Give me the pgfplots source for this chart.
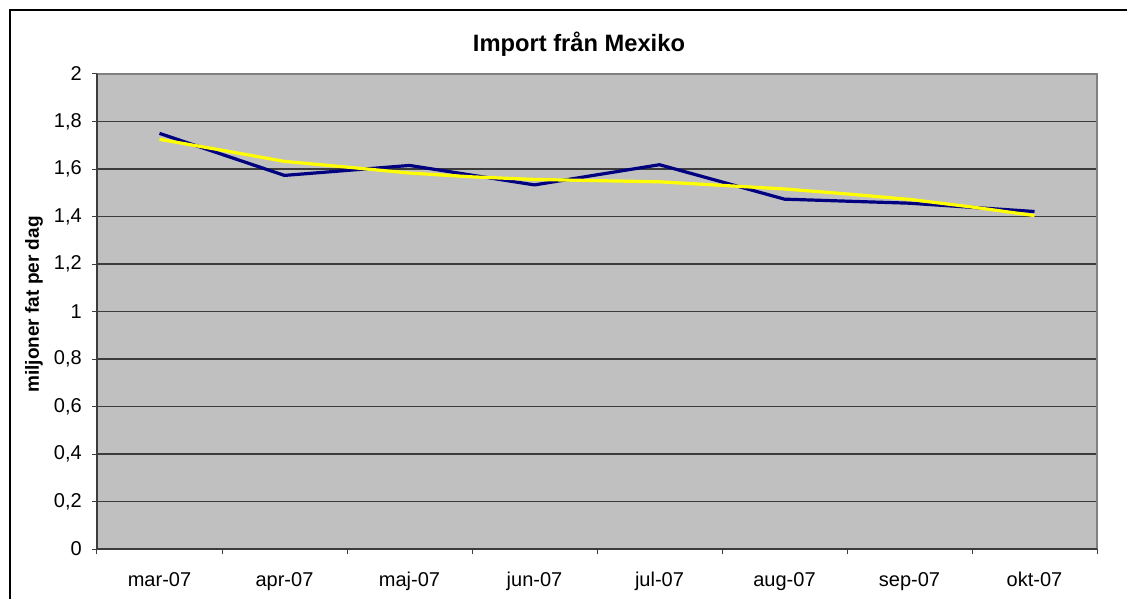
\documentclass[border=0pt]{standalone}
\usepackage{pgfplots}
\pgfplotsset{compat=1.18}
\usepackage{fontspec}
\setmainfont{Liberation Sans}
\definecolor{bg}{HTML}{C0C0C0}
\definecolor{navyline}{HTML}{000080}
\definecolor{yel}{HTML}{FFFF00}
\definecolor{gridc}{HTML}{3C3C3C}
\definecolor{framec}{HTML}{808080}
\begin{document}
\begin{tikzpicture}
\path[use as bounding box] (-97pt,-49pt) rectangle (1030pt,549pt);
\draw[line width=2.7pt] (-87pt,-70pt) -- (-87pt,539pt) -- (1050pt,539pt);
\begin{axis}[
  at={(0pt,0pt)}, anchor=south west,
  scale only axis, width=1000pt, height=475pt,
  xmin=-0.5, xmax=7.5, ymin=0, ymax=2,
  axis line style={draw=none},
  axis background/.style={fill=bg},
  xtick pos=bottom, ytick pos=left,
  tick align=outside,
  major tick length=5pt,
  tick style={color=gridc, line width=1pt},
  ymajorgrids,
  grid style={color=gridc, line width=1.2pt},
  ytick={0,0.2,0.4,0.6,0.8,1,1.2,1.4,1.6,1.8,2},
  yticklabels={0,{0,2},{0,4},{0,6},{0,8},1,{1,2},{1,4},{1,6},{1,8},2},
  xtick={-0.5,0.5,1.5,2.5,3.5,4.5,5.5,6.5,7.5},
  xticklabels={},
  extra x ticks={0,1,2,3,4,5,6,7},
  extra x tick labels={mar-07,apr-07,maj-07,jun-07,jul-07,aug-07,sep-07,okt-07},
  extra x tick style={major tick length=0pt, grid=none},
  tick label style={font=\fontsize{20}{22}\selectfont},
  yticklabel style={anchor=east, inner sep=0pt, xshift=-10pt},
  xticklabel style={anchor=north, inner sep=0pt, yshift=-23pt},
  clip=false,
]
\addplot[navyline, line width=3.2pt, line join=round] coordinates {
 (0,1.750) (1,1.573) (2,1.615) (3,1.533) (4,1.618) (5,1.473) (6,1.456) (7,1.421)
};
\addplot[yel, line width=3.2pt, line join=round] coordinates {
 (0,1.725) (0.5,1.679) (1,1.632) (1.5,1.608) (2,1.583) (2.5,1.567) (3,1.556) (3.5,1.551)
 (4,1.546) (4.5,1.531) (5,1.516) (5.5,1.495) (6,1.472) (6.5,1.440) (7,1.404)
};
\draw[framec, line width=1.2pt] (rel axis cs:0,1) -- (rel axis cs:1,1) -- (rel axis cs:1,0);
\draw[gridc, line width=1.2pt] (rel axis cs:0,1) -- (rel axis cs:0,0) -- (rel axis cs:1,0);
\end{axis}
\node[anchor=base, font=\fontsize{23.7}{26}\selectfont\bfseries] at (482pt,497pt) {Import från Mexiko};
\node[anchor=base, rotate=90, font=\fontsize{19}{22}\selectfont\bfseries] at (-58pt,244.5pt) {miljoner fat per dag};
\end{tikzpicture}
\end{document}
